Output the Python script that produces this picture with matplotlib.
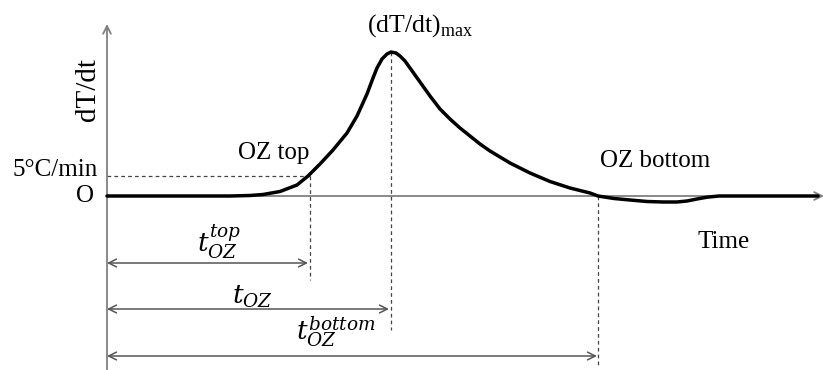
import matplotlib
matplotlib.use("Agg")
import matplotlib.pyplot as plt

# ---- data (time in arbitrary units, rate in arbitrary units) ----
time = [0, 123, 143, 156, 173, 190, 201, 213, 226, 240, 250, 260, 266, 270,
        275, 280, 284, 289, 293, 298, 303, 313, 323, 333, 343, 353, 363, 373,
        383, 393, 403, 423, 443, 463, 483, 491, 507, 523, 540, 556, 570, 580,
        590, 600, 612, 623, 711]
rate = [0, 0, 0.5, 1.5, 4.5, 11, 20, 32, 46, 63, 80, 102, 118, 128,
        137, 142, 144, 143, 140, 135, 128, 114, 100, 87, 77, 68, 60, 52,
        45, 39, 33, 23, 14.5, 8, 3, 0, -2.5, -4, -5.5, -6, -6, -5,
        -3, -1.2, 0, 0, 0]

threshold = 20          # "5°C/min" level
t_top = 203             # OZ top time
t_max = 284             # time of (dT/dt)max
r_max = 144
t_bottom = 491          # OZ bottom time
x_end = 717
y_top = 172

serif = "Liberation Serif"
plt.rcParams["mathtext.fontset"] = "dejavuserif"

fig = plt.figure(figsize=(8.27, 3.70), dpi=100)
ax = fig.add_axes([0, 0, 1, 1])
ax.set_xlim(-107, 720)
ax.set_ylim(-174, 196)
ax.axis("off")

axis_col = "#808080"
arr_col = "#555555"
dash_col = "#444444"

# axes with arrows
ax.annotate("", xy=(0, y_top), xytext=(0, -174),
            arrowprops=dict(arrowstyle="->", color=axis_col, lw=1.3,
                            mutation_scale=14, shrinkA=0, shrinkB=0))
ax.annotate("", xy=(x_end, 0), xytext=(0, 0),
            arrowprops=dict(arrowstyle="->", color=axis_col, lw=1.3,
                            mutation_scale=14, shrinkA=0, shrinkB=0))

# curve
ax.plot(time, rate, color="black", lw=2.5, solid_joinstyle="round",
        solid_capstyle="round", zorder=5)

# dashed guides
dash = dict(color=dash_col, lw=0.9, ls=(0, (3, 2.5)))
ax.plot([0, t_top], [threshold, threshold], **dash)
ax.plot([t_top, t_top], [threshold, -84], **dash)
ax.plot([t_max, t_max], [r_max, -134], **dash)
ax.plot([t_bottom, t_bottom], [0, -169], **dash)

# double arrows
for xe, ye in [(t_top - 2, -67), (t_max - 2, -113), (t_bottom - 1, -160)]:
    ax.annotate("", xy=(xe, ye), xytext=(0, ye),
                arrowprops=dict(arrowstyle="<->", color=arr_col, lw=1.1,
                                mutation_scale=14, shrinkA=0, shrinkB=0))

fs = 18
ax.text(-19, 106, "dT/dt", rotation=90, ha="center", va="center",
        family=serif, fontsize=21)
ax.text(-22, 0, "O", ha="center", va="center", family=serif, fontsize=fs)
ax.text(-9, 26, "5°C/min", ha="right", va="center", family=serif, fontsize=fs)
ax.text(167, 43, "OZ top", ha="center", va="center", family=serif, fontsize=fs)
ax.text(313, 170, r"(dT/dt)$_{\mathregular{max}}$", ha="center", va="center",
        family=serif, fontsize=18.5)
ax.text(548, 35, "OZ bottom", ha="center", va="center", family=serif, fontsize=fs)
ax.text(617, -46, "Time", ha="center", va="center", family=serif, fontsize=fs)

ax.text(112, -46, r"$t_{OZ}^{top}$", ha="center", va="center", fontsize=19)
ax.text(145, -101, r"$t_{OZ}$", ha="center", va="center", fontsize=19)
ax.text(229, -136, r"$t_{OZ}^{bottom}$", ha="center", va="center", fontsize=19)

fig.savefig("out.png", dpi=100)
